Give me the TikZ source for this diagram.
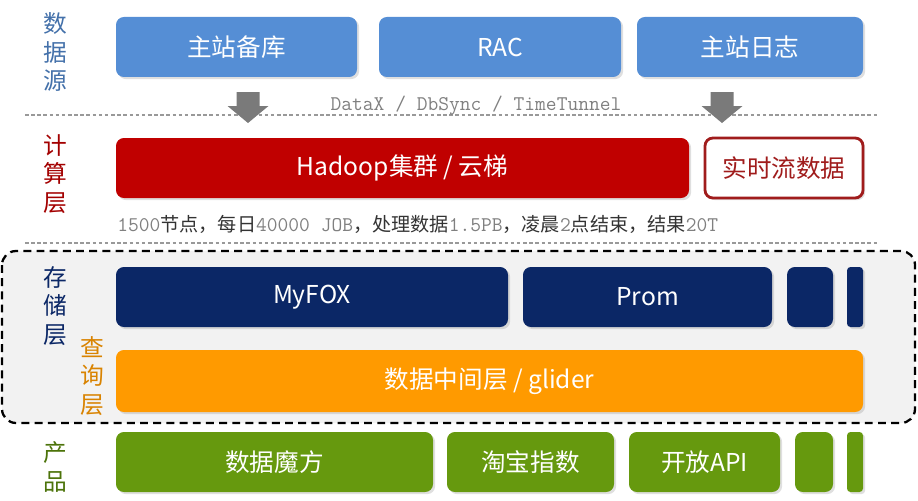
\documentclass[tikz,border=0pt]{standalone}
\usepackage{fontspec}
\usepackage{tikz}
\usetikzlibrary{shadows}
\newfontfamily\cjk{Noto Sans CJK SC}

\definecolor{srcblue}{HTML}{558ED5}
\definecolor{calcred}{HTML}{C00000}
\definecolor{rtred}{HTML}{A01C1C}
\definecolor{storenavy}{HTML}{0B2766}
\definecolor{queryorange}{HTML}{FF9A00}
\definecolor{prodgreen}{HTML}{66990E}
\definecolor{arrgray}{HTML}{7A7A7A}
\definecolor{bggray}{HTML}{F2F2F2}

\tikzset{
	box/.style={rounded corners=4.5pt, inner sep=0pt, text=white,
		font=\cjk\fontsize{14}{16}\selectfont,
		drop shadow={shadow xshift=1.2pt, shadow yshift=-1.2pt, opacity=0.25}},
	sidelabel/.style={font=\cjk\fontsize{13.5}{16.4}\selectfont, align=center, inner sep=0pt},
	sepline/.style={draw=gray!80, line width=0.6pt, dash pattern=on 2pt off 1.5pt},
	monotext/.style={font=\ttfamily\fontsize{11.9}{13}\selectfont, text=gray, inner sep=0pt}
}

\newcommand\grayarrow[1]{%
	\fill[arrgray] (#1) ++(-11.5,0) -- ++(23,0) -- ++(0,14) -- ++(9,0) -- ++(-20.5,17)
		-- ++(-20.5,-17) -- ++(9,0) -- cycle;}
\newcommand\zh[1]{{\cjk\fontsize{10.9}{12}\selectfont\color{black!80}#1}}

\begin{document}
\begin{tikzpicture}[x=0.02cm, y=-0.02cm]
	\def\pxl{0.02cm}
	\useasboundingbox (0,0) rectangle (918,500);

	% storage / query background
	\draw[black, line width=1.3pt, dash pattern=on 4.5pt off 3pt, rounded corners=8pt, fill=bggray]
		(2,251) rectangle (915,423);

	% separators
	\draw[sepline] (25,115) -- (879,115);
	\draw[sepline] (25,243) -- (879,243);

	% side labels
	\node[sidelabel, text=srcblue!80!black] (lsrc) at (55,52) {数\\据\\源};
	\node[sidelabel, text=calcred!85!black] (lcalc) at (55,174) {计\\算\\层};
	\node[sidelabel, text=storenavy] (lstore) at (55,306) {存\\储\\层};
	\node[sidelabel, text=queryorange!85!black] (lquery) at (92,376) {查\\询\\层};
	\node[sidelabel, text=prodgreen!75!black] (lprod) at (55,467) {产\\品};

	% data sources
	\node[box, fill=srcblue, minimum width=241*\pxl, minimum height=60*\pxl] (zzbk) at (236.5,47) {主站备库};
	\node[box, fill=srcblue, minimum width=242*\pxl, minimum height=60*\pxl] (rac) at (500,47) {RAC};
	\node[box, fill=srcblue, minimum width=226*\pxl, minimum height=60*\pxl] (zzrz) at (750,47) {主站日志};

	\grayarrow{248,92}
	\grayarrow{722,92}
	\node[monotext, anchor=base] (tools) at (476,111) {DataX / DbSync / TimeTunnel};

	% computing
	\node[box, fill=calcred, minimum width=573*\pxl, minimum height=60*\pxl] (hadoop) at (402.5,168) {Hadoop集群 / 云梯};
	\node[box, fill=white, draw=rtred, line width=1.6pt, text=rtred, minimum width=158*\pxl, minimum height=60*\pxl] (rt) at (784,168) {实时流数据};
	\node[monotext, anchor=base west] (stats) at (117,231)
		{1500\zh{节点，每日}40000  JOB\zh{，处理数据}1.5PB\zh{，凌晨}2\zh{点结束，结果}20T};

	% storage
	\node[box, fill=storenavy, minimum width=392*\pxl, minimum height=60*\pxl] (myfox) at (312,297) {MyFOX};
	\node[box, fill=storenavy, minimum width=249*\pxl, minimum height=60*\pxl] (prom) at (647.5,297) {Prom};
	\node[box, fill=storenavy, minimum width=46*\pxl, minimum height=60*\pxl] (st3) at (810,297) {};
	\node[box, fill=storenavy, rounded corners=2pt, minimum width=16*\pxl, minimum height=60*\pxl] (st4) at (855,297) {};

	% query
	\node[box, fill=queryorange, minimum width=747*\pxl, minimum height=62*\pxl] (glider) at (489.5,381) {数据中间层 / glider};

	% products
	\node[box, fill=prodgreen, minimum width=317*\pxl, minimum height=60*\pxl] (mofang) at (274.5,462) {数据魔方};
	\node[box, fill=prodgreen, minimum width=167*\pxl, minimum height=60*\pxl] (tbzs) at (530.5,462) {淘宝指数};
	\node[box, fill=prodgreen, minimum width=151*\pxl, minimum height=60*\pxl] (api) at (704.5,462) {开放API};
	\node[box, fill=prodgreen, minimum width=38*\pxl, minimum height=60*\pxl] (pr4) at (814,462) {};
	\node[box, fill=prodgreen, rounded corners=2pt, minimum width=16*\pxl, minimum height=60*\pxl] (pr5) at (855,462) {};
\end{tikzpicture}
\end{document}
